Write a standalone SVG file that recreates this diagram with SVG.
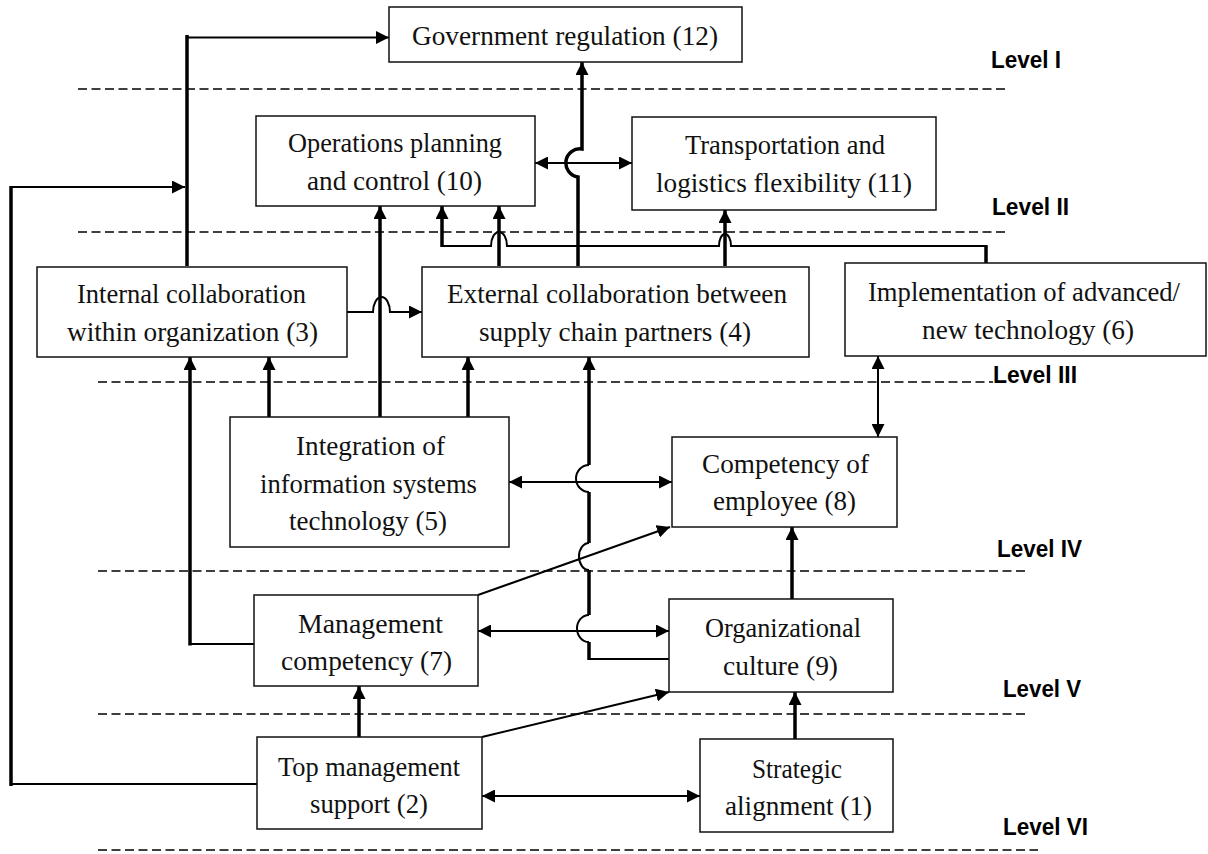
<svg xmlns="http://www.w3.org/2000/svg" width="1208" height="854" viewBox="0 0 1208 854">
<style>
.box{fill:#fff;stroke:#111;stroke-width:1.5}
.t{font-family:"Liberation Serif","Times New Roman",serif;font-size:28px;fill:#111}
.lv{font-family:"Liberation Sans",Arial,sans-serif;font-size:23px;font-weight:bold;fill:#000}
.dash{stroke:#000;stroke-width:1.5;stroke-dasharray:9 4.5;fill:none}
.thin{stroke:#000;stroke-width:2;fill:none}
.thick{stroke:#000;stroke-width:3.5;fill:none}
.a1{marker-end:url(#ah)}
.a2{marker-start:url(#ah);marker-end:url(#ah)}
</style>
<defs>
<marker id="ah" markerUnits="userSpaceOnUse" markerWidth="14" markerHeight="13" refX="13" refY="6.5" orient="auto-start-reverse"><path d="M0,0 L13,6.5 L0,13 z" fill="#000"/></marker>
</defs>
<rect width="1208" height="854" fill="#fff"/>
<g id="levels">
<line class="dash" x1="78" y1="89" x2="1007" y2="89"/>
<line class="dash" x1="78" y1="232" x2="1005" y2="232"/>
<line class="dash" x1="98" y1="382" x2="993" y2="382"/>
<line class="dash" x1="98" y1="571" x2="1027" y2="571"/>
<line class="dash" x1="98" y1="714" x2="1027" y2="714"/>
<line class="dash" x1="98" y1="850" x2="1038" y2="850"/>
<text class="lv" x="991" y="68" textLength="70" lengthAdjust="spacingAndGlyphs">Level I</text>
<text class="lv" x="992" y="215" textLength="77" lengthAdjust="spacingAndGlyphs">Level II</text>
<text class="lv" x="993" y="383" textLength="84" lengthAdjust="spacingAndGlyphs">Level III</text>
<text class="lv" x="997" y="557" textLength="85" lengthAdjust="spacingAndGlyphs">Level IV</text>
<text class="lv" x="1003" y="697" textLength="78" lengthAdjust="spacingAndGlyphs">Level V</text>
<text class="lv" x="1003" y="835" textLength="85" lengthAdjust="spacingAndGlyphs">Level VI</text>
</g>
<g id="connectors">
<!-- 3 -> 12 -->
<path class="thick" d="M187,266 V35"/>
<path class="thin a1" d="M186,37.5 H389"/>
<!-- 2 -> junction -->
<path class="thin" d="M257,784 H11"/>
<path class="thick" d="M11,786 V186"/>
<path class="thin a1" d="M10,187 H185"/>
<!-- 4 -> 12 -->
<path class="thick a1" d="M578,266 V177 A14,14 0 0 1 582,149 V62"/>
<!-- 10 <-> 11 -->
<path class="thin a2" d="M535,163 H632"/>
<!-- 6 -> 10 -->
<path class="thick" d="M986,263 V245"/>
<path class="thin" d="M987,246 H731 A6,12 0 0 0 719,246 H507 A8,14 0 0 0 491,246 H441"/>
<path class="thick a1" d="M442,247 V206"/>
<!-- 4 -> 10 -->
<path class="thick a1" d="M499,266 V206"/>
<!-- 4 -> 11 -->
<path class="thick a1" d="M725,266 V210"/>
<!-- 3 -> 4 -->
<path class="thin a1" d="M347,312 H373 A8.5,15 0 0 1 390,312 H422"/>
<!-- 5 -> 10 -->
<path class="thick a1" d="M380,417 V206"/>
<!-- 5 -> 3 -->
<path class="thick a1" d="M269,417 V357"/>
<!-- 5 -> 4 -->
<path class="thick a1" d="M468,417 V357"/>
<!-- 7 -> 3 -->
<path class="thin" d="M254,644 H189"/>
<path class="thick a1" d="M190,645.5 V357"/>
<!-- 9 -> 4 -->
<path class="thin" d="M669,659 H588"/>
<path class="thick" d="M589,660 V642"/>
<path class="thin" d="M589,642 A12,13.5 0 0 1 589,615"/>
<path class="thick" d="M589,615 V570"/>
<path class="thin" d="M589,570 A10,13.5 0 0 1 589,543"/>
<path class="thick" d="M589,543 V492"/>
<path class="thin" d="M589,492 A13,13.5 0 0 1 589,465"/>
<path class="thick a1" d="M589,465 V357"/>
<!-- 5 <-> 8 -->
<path class="thin a2" d="M509,482 H672"/>
<!-- 6 <-> 8 -->
<path class="thin a2" d="M878,356 V437"/>
<!-- 9 -> 8 -->
<path class="thick a1" d="M792,599 V527"/>
<!-- 7 -> 8 -->
<path class="thin a1" d="M478,595 L670,527"/>
<!-- 7 <-> 9 -->
<path class="thin a2" d="M478,631 H669"/>
<!-- 2 -> 7 -->
<path class="thick a1" d="M359,737 V686"/>
<!-- 2 -> 9 -->
<path class="thin a1" d="M482,737 L669,692"/>
<!-- 2 <-> 1 -->
<path class="thin a2" d="M482,796 H700"/>
<!-- 1 -> 9 -->
<path class="thick a1" d="M795,739 V692"/>
</g>
<g id="n12">
<rect class="box" x="389" y="7" width="353" height="55"/>
<text class="t" x="412" y="45" textLength="306" lengthAdjust="spacingAndGlyphs">Government regulation (12)</text>
</g>
<g id="n10">
<rect class="box" x="256" y="116" width="279" height="90"/>
<text class="t" x="288" y="152" textLength="214" lengthAdjust="spacingAndGlyphs">Operations planning</text>
<text class="t" x="307" y="190" textLength="175" lengthAdjust="spacingAndGlyphs">and control (10)</text>
</g>
<g id="n11">
<rect class="box" x="632" y="117" width="304" height="93"/>
<text class="t" x="685" y="154" textLength="200" lengthAdjust="spacingAndGlyphs">Transportation and</text>
<text class="t" x="656" y="192" textLength="256" lengthAdjust="spacingAndGlyphs">logistics flexibility (11)</text>
</g>
<g id="n3">
<rect class="box" x="37" y="267" width="310" height="90"/>
<text class="t" x="77" y="303" textLength="229" lengthAdjust="spacingAndGlyphs">Internal collaboration</text>
<text class="t" x="67" y="341" textLength="251" lengthAdjust="spacingAndGlyphs">within organization (3)</text>
</g>
<g id="n4">
<rect class="box" x="422" y="267" width="387" height="90"/>
<text class="t" x="447" y="303" textLength="340" lengthAdjust="spacingAndGlyphs">External collaboration between</text>
<text class="t" x="479" y="341" textLength="272" lengthAdjust="spacingAndGlyphs">supply chain partners (4)</text>
</g>
<g id="n6">
<rect class="box" x="845" y="263" width="361" height="93"/>
<text class="t" x="868" y="301" textLength="312" lengthAdjust="spacingAndGlyphs">Implementation of advanced/</text>
<text class="t" x="922" y="339" textLength="212" lengthAdjust="spacingAndGlyphs">new technology (6)</text>
</g>
<g id="n5">
<rect class="box" x="230" y="417" width="279" height="130"/>
<text class="t" x="296" y="455" textLength="149" lengthAdjust="spacingAndGlyphs">Integration of</text>
<text class="t" x="260" y="493" textLength="217" lengthAdjust="spacingAndGlyphs">information systems</text>
<text class="t" x="289" y="530" textLength="158" lengthAdjust="spacingAndGlyphs">technology (5)</text>
</g>
<g id="n8">
<rect class="box" x="672" y="437" width="225" height="90"/>
<text class="t" x="702" y="473" textLength="167" lengthAdjust="spacingAndGlyphs">Competency of</text>
<text class="t" x="713" y="510" textLength="143" lengthAdjust="spacingAndGlyphs">employee (8)</text>
</g>
<g id="n7">
<rect class="box" x="254" y="595" width="224" height="91"/>
<text class="t" x="298" y="633" textLength="145" lengthAdjust="spacingAndGlyphs">Management</text>
<text class="t" x="281" y="670" textLength="171" lengthAdjust="spacingAndGlyphs">competency (7)</text>
</g>
<g id="n9">
<rect class="box" x="669" y="599" width="224" height="93"/>
<text class="t" x="705" y="637" textLength="156" lengthAdjust="spacingAndGlyphs">Organizational</text>
<text class="t" x="723" y="675" textLength="115" lengthAdjust="spacingAndGlyphs">culture (9)</text>
</g>
<g id="n2">
<rect class="box" x="257" y="737" width="225" height="92"/>
<text class="t" x="278" y="776" textLength="182" lengthAdjust="spacingAndGlyphs">Top management</text>
<text class="t" x="310" y="813" textLength="118" lengthAdjust="spacingAndGlyphs">support (2)</text>
</g>
<g id="n1">
<rect class="box" x="700" y="739" width="193" height="93"/>
<text class="t" x="752" y="778" textLength="90" lengthAdjust="spacingAndGlyphs">Strategic</text>
<text class="t" x="725" y="815" textLength="147" lengthAdjust="spacingAndGlyphs">alignment (1)</text>
</g>
</svg>
